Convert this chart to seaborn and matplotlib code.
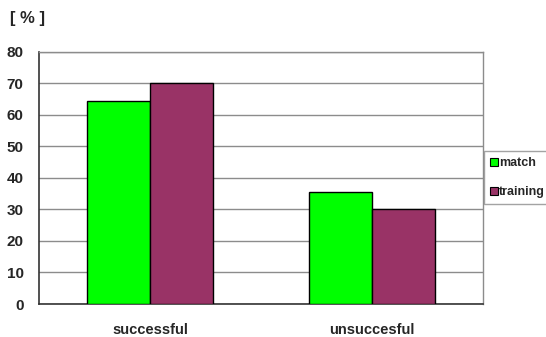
import matplotlib
matplotlib.use("Agg")
import matplotlib.pyplot as plt
import seaborn as sns
import pandas as pd

categories = ["successful", "unsuccesful"]
series = ["match", "training"]
match_values = [64.5, 35.5]
training_values = [70.0, 30.0]
colors = {"match": "#00FF00", "training": "#993366"}

df = pd.DataFrame({
    "outcome": categories * 2,
    "group": ["match"] * len(categories) + ["training"] * len(categories),
    "percent": match_values + training_values,
})

sns.set_style("white")
plt.rcParams["font.family"] = ["Liberation Sans", "DejaVu Sans"]
plt.rcParams["font.weight"] = "bold"

fig = plt.figure(figsize=(5.46, 3.37), dpi=100)
ax = fig.add_axes([39 / 546, 1 - 304 / 337, 444 / 546, (304 - 51.7) / 337])

sns.barplot(data=df, x="outcome", y="percent", hue="group", hue_order=series,
            palette=colors, width=0.571, gap=0, edgecolor="black", linewidth=1.0,
            saturation=1, ax=ax, zorder=3)

ax.set_xlim(-0.5, 1.5)
ax.set_ylim(0, 80)
ax.set_yticks(range(0, 81, 10))
ax.yaxis.grid(True, color="#8c8c8c", linewidth=1.0, zorder=0)
ax.set_axisbelow(True)
ax.set_xlabel("")
ax.set_ylabel("")

ax.set_xticks([0, 1])
ax.set_xticklabels(categories, fontsize=10.5, fontweight="bold")
ax.tick_params(axis="x", which="major", length=0, pad=14)
ax.set_xticks([-0.5, 0.5, 1.5], minor=True)
ax.tick_params(axis="x", which="minor", length=5, width=1, color="#333333", direction="out")
ax.tick_params(axis="y", length=5, width=1, color="#333333", direction="out",
               labelsize=11, pad=6)
for lab in ax.get_yticklabels():
    lab.set_fontweight("bold")

for side in ["left", "bottom"]:
    ax.spines[side].set_color("#333333")
    ax.spines[side].set_linewidth(1.2)
for side in ["top", "right"]:
    ax.spines[side].set_visible(True)
    ax.spines[side].set_color("#8c8c8c")
    ax.spines[side].set_linewidth(1.0)

ax.legend_.remove()
handles = [plt.Rectangle((0, 0), 1, 1, facecolor=colors[s], edgecolor="black", linewidth=0.8)
           for s in series]
leg = fig.legend(handles, series, loc="upper left",
                 bbox_to_anchor=(484 / 546, 1 - 151 / 337),
                 frameon=True, fancybox=False, edgecolor="#8c8c8c",
                 handlelength=0.6, handleheight=0.6, handletextpad=0.1,
                 labelspacing=1.35, borderpad=0.5, borderaxespad=0,
                 prop={"size": 9, "weight": "bold"})
leg.get_frame().set_linewidth(1.0)

fig.text(10 / 546, 1 - 18 / 337, "[ % ]", fontsize=12, fontweight="bold",
         va="center", ha="left")

fig.savefig("out.png", dpi=100, facecolor="white")
